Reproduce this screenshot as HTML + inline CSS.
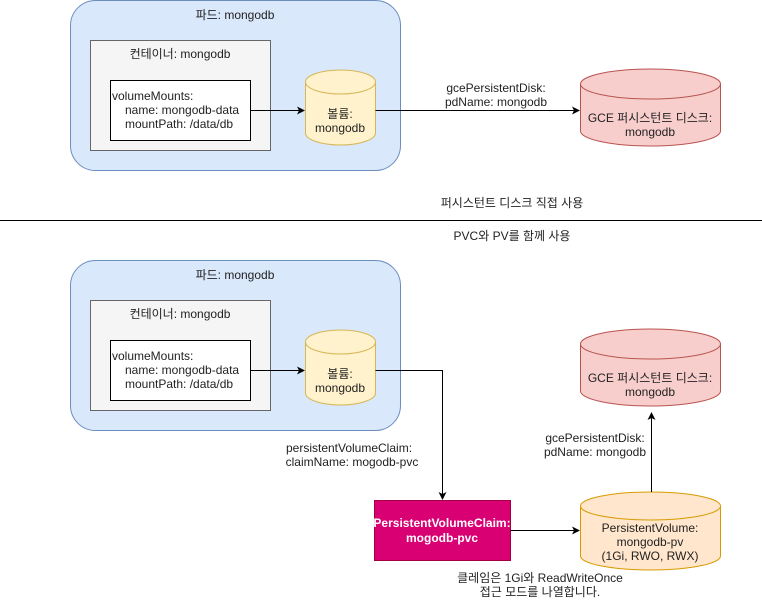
<!DOCTYPE html>
<html><head><meta charset="utf-8"><style>
body{margin:0;background:#fff;}
svg text{font-family:"Liberation Sans","Noto Sans CJK KR",sans-serif;font-size:12px;fill:#222;}
</style></head><body>
<svg width="762" height="601" xmlns="http://www.w3.org/2000/svg">
<defs><marker id="a" markerWidth="8" markerHeight="8" refX="7" refY="4" orient="auto" markerUnits="userSpaceOnUse"><path d="M0,0 L8,4 L0,8 L2,4 z" fill="#000"/></marker></defs>
<g id="top">
<rect x="70.5" y="0.5" width="330" height="170" rx="25" fill="#dae8fc" stroke="#6c8ebf"/>
<text x="235" y="19" text-anchor="middle">파드: mongodb</text>
<rect x="90.5" y="40.5" width="180" height="110" fill="#f5f5f5" stroke="#666"/>
<text x="180" y="58" text-anchor="middle">컨테이너: mongodb</text>
<rect x="110.5" y="80.5" width="140" height="60" fill="#fff" stroke="#000"/>
<text x="112" y="100">volumeMounts:</text>
<text x="125" y="114">name: mongodb-data</text>
<text x="125" y="128">mountPath: /data/db</text>
<path d="M305.5,82 v51 a35,12 0 0 0 70,0 v-51" fill="#fff2cc" stroke="#d6b656"/>
<ellipse cx="340.5" cy="82" rx="35" ry="12" fill="#fff2cc" stroke="#d6b656"/>
<text x="340" y="118" text-anchor="middle">볼륨:</text>
<text x="340" y="132" text-anchor="middle">mongodb</text>
<line x1="250.5" y1="110.5" x2="304" y2="110.5" stroke="#000" marker-end="url(#a)"/>
<line x1="375.5" y1="110.5" x2="579" y2="110.5" stroke="#000" marker-end="url(#a)"/>
<text x="496" y="92" text-anchor="middle">gcePersistentDisk:</text>
<text x="496" y="106" text-anchor="middle">pdName: mongodb</text>
<path d="M580.5,84 v47 a70,15 0 0 0 140,0 v-47" fill="#f8cecc" stroke="#b85450"/>
<ellipse cx="650.5" cy="84" rx="70" ry="15" fill="#f8cecc" stroke="#b85450"/>
<text x="650" y="122" text-anchor="middle">GCE 퍼시스턴트 디스크:</text>
<text x="650" y="136" text-anchor="middle">mongodb</text>
</g>
<text x="512" y="207" text-anchor="middle">퍼시스턴트 디스크 직접 사용</text>
<line x1="0" y1="220.5" x2="762" y2="220.5" stroke="#000"/>
<text x="512" y="240" text-anchor="middle">PVC와 PV를 함께 사용</text>
<g transform="translate(0,260)">
<rect x="70.5" y="0.5" width="330" height="170" rx="25" fill="#dae8fc" stroke="#6c8ebf"/>
<text x="235" y="19" text-anchor="middle">파드: mongodb</text>
<rect x="90.5" y="40.5" width="180" height="110" fill="#f5f5f5" stroke="#666"/>
<text x="180" y="58" text-anchor="middle">컨테이너: mongodb</text>
<rect x="110.5" y="80.5" width="140" height="60" fill="#fff" stroke="#000"/>
<text x="112" y="100">volumeMounts:</text>
<text x="125" y="114">name: mongodb-data</text>
<text x="125" y="128">mountPath: /data/db</text>
<path d="M305.5,82 v51 a35,12 0 0 0 70,0 v-51" fill="#fff2cc" stroke="#d6b656"/>
<ellipse cx="340.5" cy="82" rx="35" ry="12" fill="#fff2cc" stroke="#d6b656"/>
<text x="340" y="118" text-anchor="middle">볼륨:</text>
<text x="340" y="132" text-anchor="middle">mongodb</text>
<line x1="250.5" y1="110.5" x2="304" y2="110.5" stroke="#000" marker-end="url(#a)"/>
<path d="M580.5,84 v47 a70,15 0 0 0 140,0 v-47" fill="#f8cecc" stroke="#b85450"/>
<ellipse cx="650.5" cy="84" rx="70" ry="15" fill="#f8cecc" stroke="#b85450"/>
<text x="650" y="122" text-anchor="middle">GCE 퍼시스턴트 디스크:</text>
<text x="650" y="136" text-anchor="middle">mongodb</text>
</g>
<polyline points="375.5,370.5 442.5,370.5 442.5,499" fill="none" stroke="#000" marker-end="url(#a)"/>
<text x="349" y="452" text-anchor="middle">persistentVolumeClaim:</text>
<text x="352" y="466" text-anchor="middle">claimName: mogodb-pvc</text>
<rect x="374.5" y="500.5" width="136" height="60" fill="#d80073" stroke="#a50040"/>
<text x="442" y="527" text-anchor="middle" style="fill:#fff;font-weight:bold">PersistentVolumeClaim:</text>
<text x="442" y="542" text-anchor="middle" style="fill:#fff;font-weight:bold">mogodb-pvc</text>
<line x1="510.5" y1="530.5" x2="579" y2="530.5" stroke="#000" marker-end="url(#a)"/>
<path d="M580.5,506 v50 a70,14 0 0 0 140,0 v-50" fill="#ffe6cc" stroke="#d79b00"/>
<ellipse cx="650.5" cy="506" rx="70" ry="14" fill="#ffe6cc" stroke="#d79b00"/>
<text x="650" y="532" text-anchor="middle">PersistentVolume:</text>
<text x="650" y="546" text-anchor="middle">mongodb-pv</text>
<text x="650" y="560" text-anchor="middle">(1Gi, RWO, RWX)</text>
<line x1="651.5" y1="492" x2="651.5" y2="413" stroke="#000" marker-end="url(#a)"/>
<text x="595" y="442" text-anchor="middle">gcePersistentDisk:</text>
<text x="595" y="456" text-anchor="middle">pdName: mongodb</text>
<text x="540" y="582" text-anchor="middle">클레임은 1Gi와 ReadWriteOnce</text>
<text x="540" y="596" text-anchor="middle">접근 모드를 나열합니다.</text>
</svg>
</body></html>
